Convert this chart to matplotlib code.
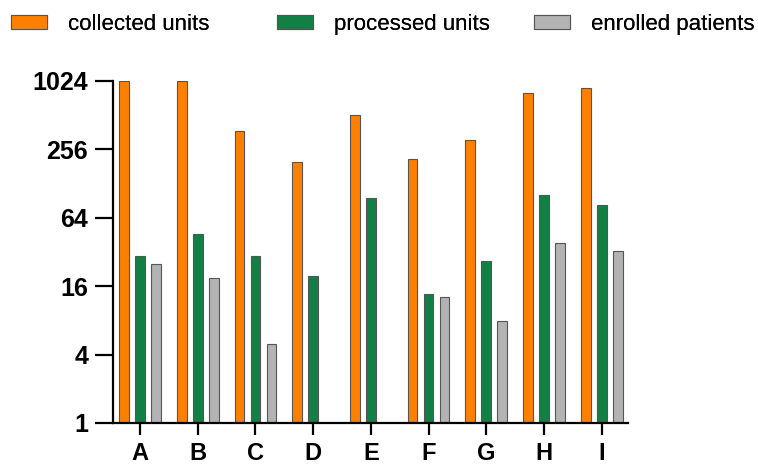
import numpy as np
import matplotlib
matplotlib.use("Agg")
import matplotlib.pyplot as plt

plt.rcParams["font.family"] = ["Liberation Sans", "DejaVu Sans"]

categories = ["A", "B", "C", "D", "E", "F", "G", "H", "I"]
collected = [1024, 1024, 372, 198, 512, 212, 311, 808, 893]
processed = [29.5, 46.4, 29.5, 19.7, 96, 13.7, 26.7, 101.6, 83]
# D and E have no enrolled-patients bar
enrolled = [24.9, 18.8, 4.93, np.nan, np.nan, 12.8, 7.9, 38.7, 32.7]
y_ticks = [1, 4, 16, 64, 256, 1024]

series = [
    ("collected units", collected, "#FF8000"),
    ("processed units", processed, "#128045"),
    ("enrolled patients", enrolled, "#B3B3B3"),
]
# left edge of each legend entry, as a fraction of the figure width
legend_x = [11 / 758, 277 / 758, 534 / 758]

fig = plt.figure(figsize=(7.58, 4.66), dpi=100)
ax = fig.add_axes([0.1491, 0.0923, 0.6794, 0.7339])

x = np.arange(len(categories))
offset = 0.277
width = 0.17
handles = []
for i, (name, vals, color) in enumerate(series):
    h = ax.bar(x + (i - 1) * offset, vals, width, color=color,
               edgecolor="#555555", linewidth=0.8, label=name, zorder=2)
    handles.append(h)

ax.set_yscale("log", base=2)
ax.set_ylim(1, 1024)
ax.set_yticks(y_ticks)
ax.set_yticklabels([str(t) for t in y_ticks])
ax.yaxis.set_minor_locator(matplotlib.ticker.NullLocator())
ax.set_xlim(-0.468, 8.456)
ax.set_xticks(x)
ax.set_xticklabels(categories)

for s in ["top", "right"]:
    ax.spines[s].set_visible(False)
for s in ["left", "bottom"]:
    ax.spines[s].set_linewidth(1.6)

ax.tick_params(axis="y", length=13, width=1.6, pad=5, labelsize=18)
ax.tick_params(axis="x", length=8.6, width=1.6, pad=5, labelsize=17)
for lab in ax.get_xticklabels() + ax.get_yticklabels():
    lab.set_fontweight("bold")

# one legend per entry so the uneven gaps of the original are kept
for h, (name, _, _), lx in zip(handles, series, legend_x):
    leg = fig.legend([h], [name], loc="center left",
                     bbox_to_anchor=(lx, 0.948), frameon=False, fontsize=16,
                     handlelength=1.6, handleheight=0.55, handletextpad=0.95,
                     borderaxespad=0, borderpad=0)
    fig.add_artist(leg)

fig.savefig("out.png", dpi=100)
